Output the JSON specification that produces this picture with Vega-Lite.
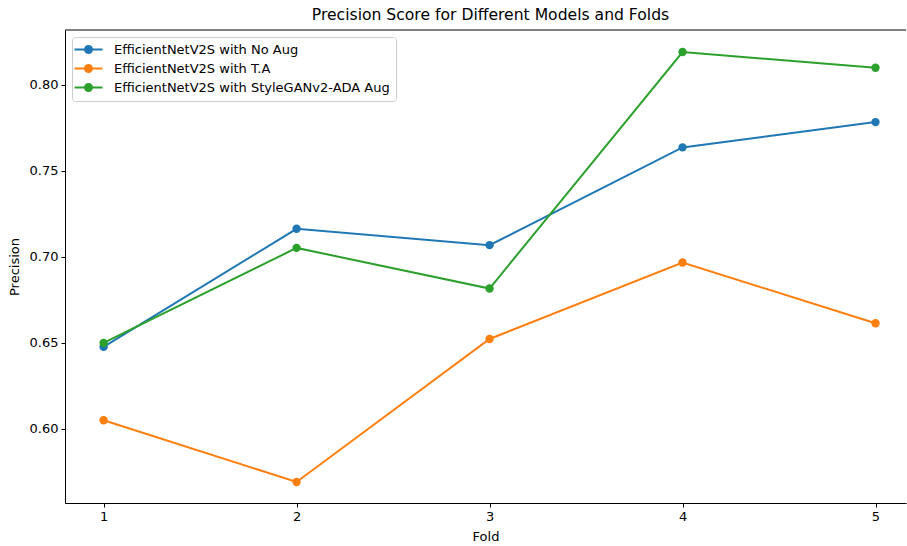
{
  "$schema": "https://vega.github.io/schema/vega-lite/v6.json",
  "width": 841,
  "height": 473,
  "autosize": "none",
  "padding": {"left": 65, "top": 30, "right": 1, "bottom": 43},
  "background": "white",
  "config": {
    "font": "DejaVu Sans",
    "view": {"stroke": null},
    "axis": {
      "grid": false,
      "domainColor": "black",
      "domainWidth": 1,
      "tickColor": "black",
      "tickSize": 4,
      "labelColor": "black",
      "labelFontSize": 13,
      "labelPadding": 3,
      "titleColor": "black",
      "titleFontSize": 13,
      "titleFontWeight": "normal"
    }
  },
  "title": {
    "text": "Precision Score for Different Models and Folds",
    "fontSize": 15.6,
    "fontWeight": "normal",
    "color": "black",
    "anchor": "middle",
    "dx": 5,
    "offset": 6
  },
  "layer": [
    {
      "data": {
        "values": [
          {"model": "EfficientNetV2S with No Aug", "fold": 1, "precision": 0.6477},
          {"model": "EfficientNetV2S with No Aug", "fold": 2, "precision": 0.7163},
          {"model": "EfficientNetV2S with No Aug", "fold": 3, "precision": 0.7068},
          {"model": "EfficientNetV2S with No Aug", "fold": 4, "precision": 0.7636},
          {"model": "EfficientNetV2S with No Aug", "fold": 5, "precision": 0.7783},
          {"model": "EfficientNetV2S with T.A", "fold": 1, "precision": 0.6051},
          {"model": "EfficientNetV2S with T.A", "fold": 2, "precision": 0.5692},
          {"model": "EfficientNetV2S with T.A", "fold": 3, "precision": 0.6523},
          {"model": "EfficientNetV2S with T.A", "fold": 4, "precision": 0.6967},
          {"model": "EfficientNetV2S with T.A", "fold": 5, "precision": 0.6614},
          {"model": "EfficientNetV2S with StyleGANv2-ADA Aug", "fold": 1, "precision": 0.65},
          {"model": "EfficientNetV2S with StyleGANv2-ADA Aug", "fold": 2, "precision": 0.7052},
          {"model": "EfficientNetV2S with StyleGANv2-ADA Aug", "fold": 3, "precision": 0.6816},
          {"model": "EfficientNetV2S with StyleGANv2-ADA Aug", "fold": 4, "precision": 0.819},
          {"model": "EfficientNetV2S with StyleGANv2-ADA Aug", "fold": 5, "precision": 0.8099}
        ]
      },
      "mark": {"type": "line", "strokeWidth": 2, "point": {"size": 70, "filled": true, "opacity": 1}},
      "encoding": {
        "x": {
          "field": "fold", "type": "quantitative", "title": "Fold",
          "scale": {"domain": [0.8, 5.158], "nice": false, "zero": false},
          "axis": {"values": [1, 2, 3, 4, 5], "format": "d", "titlePadding": 7}
        },
        "y": {
          "field": "precision", "type": "quantitative", "title": "Precision",
          "scale": {"domain": [0.557, 0.8318], "nice": false, "zero": false},
          "axis": {"values": [0.6, 0.65, 0.7, 0.75, 0.8], "format": ".2f", "titlePadding": 8}
        },
        "color": {
          "field": "model", "type": "nominal",
          "scale": {
            "domain": ["EfficientNetV2S with No Aug", "EfficientNetV2S with T.A", "EfficientNetV2S with StyleGANv2-ADA Aug"],
            "range": ["#1f77b4", "#ff7f0e", "#2ca02c"]
          },
          "legend": {
            "title": null,
            "orient": "none",
            "legendX": 7,
            "legendY": 7,
            "padding": 6,
            "strokeColor": "#cccccc",
            "fillColor": "rgba(255,255,255,0.8)",
            "cornerRadius": 3,
            "symbolType": "M-2.8,0H2.8M-0.7,0A0.7,0.7 0 1,0 0.7,0A0.7,0.7 0 1,0 -0.7,0",
            "symbolSize": 100,
            "symbolStrokeWidth": 2,
            "symbolOffset": 4,
            "labelOffset": 19,
            "labelFontSize": 13,
            "labelLimit": 500,
            "labelColor": "black",
            "rowPadding": 4,
            "encode": {
              "symbols": {
                "update": {
                  "fill": {"scale": "color", "field": "value"},
                  "stroke": {"scale": "color", "field": "value"},
                  "opacity": {"value": 1}
                }
              }
            }
          }
        }
      }
    },
    {
      "data": {"values": [{"edge": "top"}]},
      "mark": {"type": "rule", "color": "black", "strokeWidth": 1},
      "encoding": {"y": {"datum": 0.8318}}
    }
  ]
}
